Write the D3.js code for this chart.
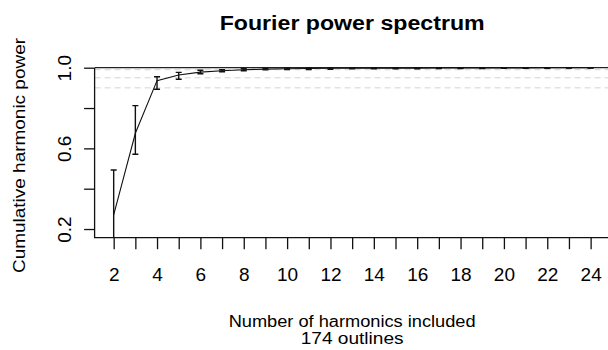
<!DOCTYPE html>
<html>
<head>
<meta charset="utf-8">
<script src="https://cdn.jsdelivr.net/npm/d3@7"></script>
<style>
  body { margin: 0; background: #fff; }
  text { font-family: "Liberation Sans", Arial, sans-serif; fill: #000; }
</style>
</head>
<body>
<div id="chart"></div>
<script>
// Cumulative harmonic power, mean and error bar ends
var harmonics = [2, 3, 4, 5, 6, 7, 8, 9, 10, 11, 12, 13, 14, 15, 16, 17, 18, 19, 20, 21, 22, 23, 24];
var meanPower = [0.270, 0.675, 0.936, 0.964, 0.978, 0.985, 0.990, 0.993, 0.995, 0.996, 0.997, 0.997, 0.998,
                 0.998, 0.998, 0.999, 0.999, 0.999, 0.999, 0.999, 0.9995, 0.9995, 0.9995];
var lowerPower = [0.047, 0.571, 0.893, 0.943, 0.970, 0.980, 0.985, 0.989, 0.991, 0.991, 0.992, 0.994, 0.995,
                  0.995, 0.995, 0.996, 0.996, 0.996, 0.997, 0.997, 0.997, 0.998, 0.998];
var upperPower = [0.493, 0.812, 0.955, 0.977, 0.987, 0.990, 0.995, 0.997, 0.998, 0.999, 0.999, 0.999, 1.0,
                  1.0, 1.0, 1.0, 1.0, 1.0, 1.0, 1.0, 1.0, 1.0, 1.0];
var refLines = [0.99, 0.95, 0.90];
var yTicks = [0.2, 0.4, 0.6, 0.8, 1.0];
var yTickLabels = ['0.2', '', '0.6', '', '1.0'];
var xTickLabels = harmonics.map(function (h) { return h % 2 === 0 ? String(h) : ''; });

var width = 608, height = 350;
var plotLeft = 94.6, plotRight = 609.7, plotTop = 67.7, plotBottom = 237.7;

var x = d3.scaleLinear().domain([1.12, 24.88]).range([plotLeft, plotRight]);
var y = d3.scaleLinear().domain([0.157, 1.0]).range([plotBottom, plotTop]);

var svg = d3.select('#chart')
  .append('svg')
  .attr('width', width)
  .attr('height', height);

// clip a little above the top so the line at 1.0 keeps its full width
svg.append('clipPath')
  .attr('id', 'plot-clip')
  .append('rect')
  .attr('x', plotLeft)
  .attr('y', plotTop - 1.5)
  .attr('width', plotRight - plotLeft)
  .attr('height', plotBottom - plotTop + 1.5);

var plot = svg.append('g').attr('clip-path', 'url(#plot-clip)');

// dashed reference levels
plot.selectAll('.ref')
  .data(refLines)
  .enter()
  .append('line')
  .attr('x1', plotLeft)
  .attr('x2', plotRight)
  .attr('y1', function (d) { return y(d); })
  .attr('y2', function (d) { return y(d); })
  .attr('stroke', '#d4d4d4')
  .attr('stroke-dasharray', '6,4');

plot.append('line')
  .attr('x1', plotLeft)
  .attr('x2', plotRight)
  .attr('y1', y(1))
  .attr('y2', y(1))
  .attr('stroke', '#222')
  .attr('stroke-width', 1.3);

var line = d3.line()
  .x(function (d, i) { return x(harmonics[i]); })
  .y(function (d) { return y(d); });

plot.append('path')
  .datum(meanPower)
  .attr('d', line)
  .attr('fill', 'none')
  .attr('stroke', '#111')
  .attr('stroke-width', 1.1);

var bars = plot.selectAll('.bar')
  .data(harmonics)
  .enter()
  .append('g')
  .attr('stroke', '#111')
  .attr('stroke-width', 1.4);

bars.append('line')
  .attr('x1', function (d) { return x(d); })
  .attr('x2', function (d) { return x(d); })
  .attr('y1', function (d, i) { return y(lowerPower[i]); })
  .attr('y2', function (d, i) { return y(upperPower[i]); });

bars.append('line')
  .attr('x1', function (d) { return x(d) - 3; })
  .attr('x2', function (d) { return x(d) + 3; })
  .attr('y1', function (d, i) { return y(lowerPower[i]); })
  .attr('y2', function (d, i) { return y(lowerPower[i]); });

bars.append('line')
  .attr('x1', function (d) { return x(d) - 3; })
  .attr('x2', function (d) { return x(d) + 3; })
  .attr('y1', function (d, i) { return y(upperPower[i]); })
  .attr('y2', function (d, i) { return y(upperPower[i]); });

// L-shaped box
svg.append('path')
  .attr('d', 'M' + plotLeft + ',' + plotTop + 'V' + plotBottom + 'H' + plotRight)
  .attr('fill', 'none')
  .attr('stroke', '#111')
  .attr('stroke-width', 1.3);

var xAxis = svg.append('g')
  .attr('transform', 'translate(0,' + plotBottom + ')')
  .call(d3.axisBottom(x)
    .tickValues(harmonics)
    .tickSize(11.5)
    .tickFormat(function (d, i) { return xTickLabels[i]; }));
xAxis.select('.domain').remove();
xAxis.selectAll('.tick line').attr('stroke', '#111').attr('stroke-width', 1.3);
xAxis.selectAll('.tick text')
  .attr('font-size', '19px')
  .attr('font-family', '"Liberation Sans", Arial, sans-serif')
  .attr('dy', 0)
  .attr('y', 43.3);

var yAxis = svg.append('g')
  .attr('transform', 'translate(' + plotLeft + ',0)')
  .call(d3.axisLeft(y)
    .tickValues(yTicks)
    .tickSize(10.5)
    .tickFormat(function (d, i) { return yTickLabels[i]; }));
yAxis.select('.domain').remove();
yAxis.selectAll('.tick line').attr('stroke', '#111').attr('stroke-width', 1.3);
yAxis.selectAll('.tick text')
  .attr('font-size', '19px')
  .attr('font-family', '"Liberation Sans", Arial, sans-serif')
  .attr('x', 0)
  .attr('dy', 0)
  .attr('text-anchor', 'middle')
  .attr('transform', 'translate(-23.5,0) rotate(-90)');

var midX = (plotLeft + plotRight) / 2;

svg.append('text')
  .attr('x', midX)
  .attr('y', 30)
  .attr('text-anchor', 'middle')
  .attr('font-size', '20px')
  .attr('font-weight', 'bold')
  .attr('textLength', 265)
  .attr('lengthAdjust', 'spacingAndGlyphs')
  .text('Fourier power spectrum');

svg.append('text')
  .attr('x', midX)
  .attr('y', 326.5)
  .attr('text-anchor', 'middle')
  .attr('font-size', '16px')
  .attr('textLength', 247)
  .attr('lengthAdjust', 'spacingAndGlyphs')
  .text('Number of harmonics included');

svg.append('text')
  .attr('x', midX)
  .attr('y', 344)
  .attr('text-anchor', 'middle')
  .attr('font-size', '16px')
  .attr('textLength', 103)
  .attr('lengthAdjust', 'spacingAndGlyphs')
  .text('174 outlines');

svg.append('text')
  .attr('transform', 'translate(25,155.5) rotate(-90)')
  .attr('text-anchor', 'middle')
  .attr('font-size', '17px')
  .attr('textLength', 235)
  .attr('lengthAdjust', 'spacingAndGlyphs')
  .text('Cumulative harmonic power');
</script>
</body>
</html>
